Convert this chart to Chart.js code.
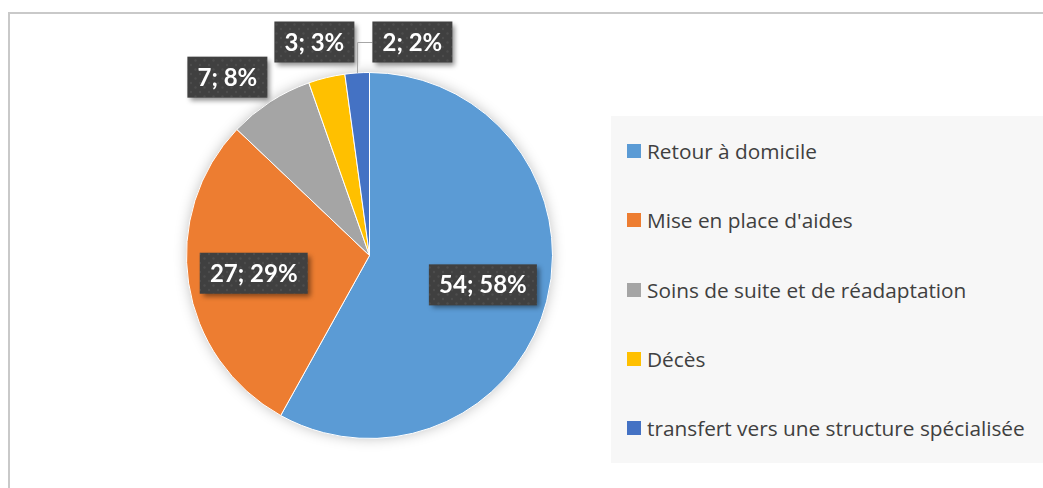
<!DOCTYPE html>
<html lang="fr">
<head>
<meta charset="utf-8">
<title>Devenir des patients</title>
<script src="https://cdn.jsdelivr.net/npm/chart.js@4.4.1/dist/chart.umd.min.js"></script>
<style>
  html, body { margin: 0; padding: 0; background: #fff; }
  body { width: 1043px; height: 488px; position: relative; overflow: hidden; }
  .frame {
    position: absolute; left: 8px; top: 12px; width: 1100px; height: 520px;
    border-left: 2px solid #c9c9c9; border-top: 2px solid #c9c9c9;
  }
  #pie { position: absolute; left: 0; top: 0; }
  .legend {
    position: absolute; left: 611px; top: 116px; width: 460px; height: 347px;
    background: #f7f7f7; display: flex; flex-direction: column;
    font-family: "Open Sans", Lato, sans-serif; font-size: 20.8px; color: #404040;
  }
  .legend .item { flex: 1; display: flex; align-items: center; padding-left: 16px; }
  .legend .swatch { width: 14px; height: 14px; margin-right: 6px; flex: none; }
</style>
</head>
<body>
<div class="frame"></div>
<canvas id="pie" width="1043" height="488"></canvas>
<div class="legend" id="legend"></div>

<script>
const categories = [
  'Retour à domicile',
  "Mise en place d'aides",
  'Soins de suite et de réadaptation',
  'Décès',
  'transfert vers une structure spécialisée'
];
const counts = [54, 27, 7, 3, 2];
const colors = ['#5B9BD5', '#ED7D31', '#A5A5A5', '#FFC000', '#4472C4'];

const total = counts.reduce((a, b) => a + b, 0);
const labelFont = 'bold 24px Lato, "Open Sans", sans-serif';

const labelText = (v) => v + '; ' + Math.round(v / total * 100) + '%';

// small dotted texture used inside the label boxes
const dots = document.createElement('canvas');
dots.width = 9;
dots.height = 9;
(() => {
  const c = dots.getContext('2d');
  c.fillStyle = 'rgba(255,255,255,0.07)';
  c.beginPath(); c.arc(2, 2, 1.2, 0, Math.PI * 2); c.fill();
  c.beginPath(); c.arc(6.5, 6.5, 1.2, 0, Math.PI * 2); c.fill();
})();

const overlaps = (a, b) =>
  a.x < b.x + b.w && b.x < a.x + a.w && a.y < b.y + b.h && b.y < a.y + a.h;

// soft shadow under the whole pie
const pieShadow = {
  id: 'pieShadow',
  beforeDatasetsDraw(chart) {
    const arc = chart.getDatasetMeta(0).data[0];
    if (!arc) return;
    const ctx = chart.ctx;
    ctx.save();
    ctx.shadowColor = 'rgba(0,0,0,0.28)';
    ctx.shadowBlur = 14;
    ctx.fillStyle = '#fff';
    ctx.beginPath();
    ctx.arc(arc.x, arc.y, arc.outerRadius - 1, 0, Math.PI * 2);
    ctx.fill();
    ctx.restore();
  }
};

// "value; percent" boxes, inside big slices and outside small ones
const valueBoxes = {
  id: 'valueBoxes',
  afterDatasetsDraw(chart) {
    const ctx = chart.ctx;
    const arcs = chart.getDatasetMeta(0).data;
    const pattern = ctx.createPattern(dots, 'repeat');
    ctx.save();
    ctx.font = labelFont;
    const placed = [];
    const boxes = [];

    arcs.forEach((arc, i) => {
      const v = counts[i];
      const text = labelText(v);
      const w = Math.round(ctx.measureText(text).width) + 20;
      const h = 41;
      const mid = (arc.startAngle + arc.endAngle) / 2;
      const cos = Math.cos(mid), sin = Math.sin(mid);
      const r = arc.outerRadius;
      let box, leader = null;

      if (v / total > 0.15) {
        const cx = arc.x + cos * r * 0.64;
        const cy = arc.y + sin * r * 0.64;
        box = { x: cx - w / 2, y: cy - h / 2, w, h };
      } else {
        const ax = arc.x + cos * (r + 5);
        const ay = arc.y + sin * (r + 5);
        box = { x: cos < 0 ? ax - w : ax, y: sin < 0 ? ay - h : ay, w, h };
        if (Math.abs(cos) < 0.3) box.y = arc.y - r - 10 - h;
        const prev = placed[placed.length - 1];
        if (prev && overlaps(prev, box)) {
          const shifted = prev.x + prev.w + 7;
          if (shifted - box.x > w / 2) {
            box.x = prev.x + prev.w + 18;
            leader = { x: arc.x + cos * r, y: arc.y + sin * r };
          } else {
            box.x = shifted;
          }
        }
        placed.push(box);
      }
      boxes.push({ box, text, leader });
    });

    boxes.forEach(({ box, text, leader }) => {
      if (leader) {
        ctx.strokeStyle = '#a6a6a6';
        ctx.lineWidth = 1;
        ctx.beginPath();
        ctx.moveTo(Math.round(leader.x) + 0.5, leader.y);
        ctx.lineTo(Math.round(leader.x) + 0.5, Math.round(box.y + box.h / 2) + 0.5);
        ctx.lineTo(box.x, Math.round(box.y + box.h / 2) + 0.5);
        ctx.stroke();
      }
      ctx.save();
      ctx.shadowColor = 'rgba(0,0,0,0.45)';
      ctx.shadowBlur = 5;
      ctx.shadowOffsetX = 3;
      ctx.shadowOffsetY = 3;
      ctx.fillStyle = '#404040';
      ctx.fillRect(box.x, box.y, box.w, box.h);
      ctx.restore();
      ctx.fillStyle = pattern;
      ctx.fillRect(box.x, box.y, box.w, box.h);
      ctx.fillStyle = '#ffffff';
      ctx.textAlign = 'center';
      ctx.textBaseline = 'alphabetic';
      ctx.fillText(text, box.x + box.w / 2, box.y + box.h / 2 + 8.5);
    });
    ctx.restore();
  }
};

new Chart(document.getElementById('pie'), {
  type: 'pie',
  data: {
    labels: categories,
    datasets: [{
      data: counts,
      backgroundColor: colors,
      borderColor: '#ffffff',
      borderWidth: 1
    }]
  },
  options: {
    responsive: false,
    animation: false,
    layout: { padding: { left: 186, right: 490, top: 72, bottom: 49 } },
    plugins: {
      legend: { display: false },
      tooltip: { enabled: false }
    }
  },
  plugins: [pieShadow, valueBoxes]
});

// legend on the right
const legend = document.getElementById('legend');
categories.forEach((name, i) => {
  const item = document.createElement('div');
  item.className = 'item';
  const sw = document.createElement('span');
  sw.className = 'swatch';
  sw.style.background = colors[i];
  const label = document.createElement('span');
  label.textContent = name;
  item.appendChild(sw);
  item.appendChild(label);
  legend.appendChild(item);
});
</script>
</body>
</html>
